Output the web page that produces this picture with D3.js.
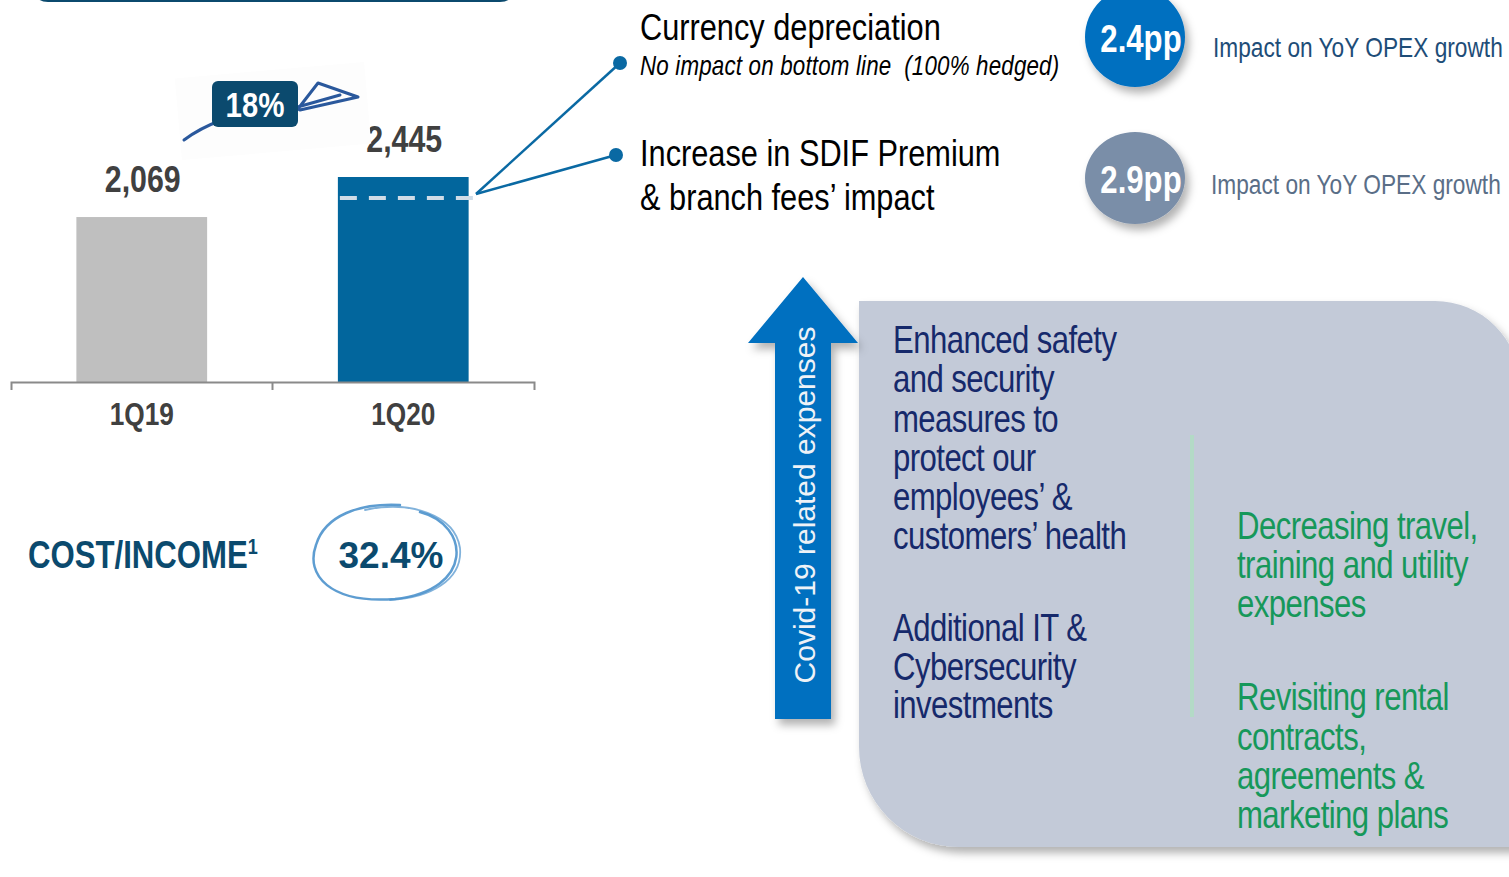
<!DOCTYPE html>
<html>
<head>
<meta charset="utf-8">
<script src="https://cdn.jsdelivr.net/npm/d3@7"></script>
<style>
  html, body { margin: 0; padding: 0; background: #fff; }
  svg { display: block; }
  text { font-family: 'Liberation Sans', Arial, sans-serif; }
</style>
</head>
<body>
<svg id="chart"></svg>
<script>
// ---- data ----
let categories = ['1Q19', '1Q20']
let opexValues = [2069, 2445]
let valueLabels = ['2,069', '2,445']
let barColors = ['#bfbfbf', '#02669d']
let baseBeforeImpacts = 2248        // dashed line inside the 1Q20 bar
let growthLabel = '18%'

let impactTitles = [['Currency depreciation'], ['Increase in SDIF Premium', '& branch fees\u2019 impact']]
let impactSub = 'No impact on bottom line\u00a0\u00a0(100% hedged)'
let impactPP = ['2.4pp', '2.9pp']
let impactNote = 'Impact on YoY OPEX growth'

let costIncomeLabel = 'COST/INCOME'
let costIncomeValue = '32.4%'

let covidLabel = 'Covid-19 related expenses'
let covidItems = [
  ['Enhanced safety', 'and security', 'measures to', 'protect our', 'employees\u2019 &', 'customers\u2019 health'],
  ['Additional IT &', 'Cybersecurity', 'investments']
]
let savingItems = [
  ['Decreasing travel,', 'training and utility', 'expenses'],
  ['Revisiting rental', 'contracts,', 'agreements &', 'marketing plans']
]

// ---- canvas ----
let width = 1509
let height = 877
let narrow = 0.82   // Arial Narrow look: squeeze Liberation Sans horizontally
let svg = d3.select('#chart').attr('width', width).attr('height', height)

let defs = svg.append('defs')
let shadow = defs.append('filter').attr('id', 'shadow')
  .attr('x', '-20%').attr('y', '-20%').attr('width', '150%').attr('height', '150%')
shadow.append('feDropShadow').attr('dx', 4).attr('dy', 6).attr('stdDeviation', 4)
  .attr('flood-color', '#000').attr('flood-opacity', 0.3)

let narrowText = (x, y, t) => {
  return svg.append('text')
    .attr('transform', 'translate(' + x + ',' + y + ') scale(' + narrow + ',1)')
    .text(t)
}

// top banner remnant
svg.append('path')
  .attr('d', 'M36,-20 H512 V-8 Q512,2 500,2 H48 Q36,2 36,-8 Z')
  .attr('fill', '#0b4a6e')

// ---- bar chart ----
let baseY = 382
let xScale = d3.scaleBand().domain(categories).range([10, 533]).paddingInner(0.5).paddingOuter(0.25)
let yScale = d3.scaleLinear().domain([520, 2445]).range([baseY, 177])

svg.selectAll('rect.bar')
  .data(categories)
  .enter()
  .append('rect')
  .attr('class', 'bar')
  .attr('x', d => xScale(d) + 1)
  .attr('y', (d, i) => yScale(opexValues[i]))
  .attr('width', xScale.bandwidth())
  .attr('height', (d, i) => baseY - yScale(opexValues[i]))
  .attr('fill', (d, i) => barColors[i])

svg.selectAll('text.val')
  .data(categories)
  .enter()
  .append('text')
  .attr('class', 'val')
  .attr('transform', (d, i) => 'translate(' + (xScale(d) + xScale.bandwidth() / 2 + 2) + ',' +
        (yScale(opexValues[i]) - 25) + ') scale(' + narrow + ',1)')
  .attr('text-anchor', 'middle')
  .attr('font-size', 37).attr('font-weight', 'bold').attr('fill', '#404040')
  .text((d, i) => valueLabels[i])

// dashed line inside 1Q20 bar
let dashY = yScale(baseBeforeImpacts)
svg.append('line')
  .attr('x1', xScale('1Q20') + 3).attr('x2', xScale('1Q20') + xScale.bandwidth() + 8)
  .attr('y1', dashY).attr('y2', dashY)
  .attr('stroke', '#d0dce7').attr('stroke-width', 4).attr('stroke-dasharray', '17,12')

let xAxis = d3.axisBottom(xScale).tickSizeInner(0).tickSizeOuter(8).tickPadding(20)
let gx = svg.append('g').attr('transform', 'translate(1,' + baseY + ')').call(xAxis)
gx.select('.domain').attr('stroke', '#8a8a8a').attr('stroke-width', 2)
gx.selectAll('.tick text')
  .attr('transform', 'scale(' + narrow + ',1)')
  .attr('font-family', "'Liberation Sans', Arial, sans-serif")
  .attr('font-size', 32).attr('font-weight', 'bold').attr('fill', '#404040')
let midTick = (xScale('1Q19') + xScale.bandwidth() + xScale('1Q20')) / 2
gx.append('line').attr('x1', midTick).attr('x2', midTick).attr('y1', 0).attr('y2', 8)
  .attr('stroke', '#8a8a8a').attr('stroke-width', 2)

// 18% growth badge with hand-drawn arrow
svg.append('rect').attr('x', 178).attr('y', 70).attr('width', 190).attr('height', 82)
  .attr('fill', '#fdfdfd').attr('transform', 'rotate(-5,273,111)')
let arrowG = svg.append('g').attr('fill', 'none').attr('stroke', '#2a589c').attr('stroke-width', 3)
  .attr('stroke-linecap', 'round').attr('stroke-linejoin', 'round')
arrowG.append('path').attr('d', 'M184,140 Q200,128 222,120')
arrowG.append('path').attr('d', 'M294,114 L318,83 L358,97 L300,110 M294,108 L340,95')
svg.append('rect').attr('x', 212).attr('y', 81).attr('width', 86).attr('height', 46).attr('rx', 6)
  .attr('fill', '#0b4a6e')
narrowText(255, 117, growthLabel).attr('text-anchor', 'middle')
  .attr('font-size', 36).attr('font-weight', 'bold').attr('fill', '#fff')

// connectors from dashed line to the impact bullets
let dotPts = [[620, 63], [616, 155]]
let fromPt = [476, 194]
svg.selectAll('line.conn')
  .data(dotPts)
  .enter()
  .append('line')
  .attr('class', 'conn')
  .attr('x1', fromPt[0]).attr('y1', fromPt[1])
  .attr('x2', d => d[0]).attr('y2', d => d[1])
  .attr('stroke', '#0a69a3').attr('stroke-width', 2.5)
svg.selectAll('circle.dot')
  .data(dotPts)
  .enter()
  .append('circle')
  .attr('class', 'dot')
  .attr('cx', d => d[0]).attr('cy', d => d[1]).attr('r', 7)
  .attr('fill', '#0a69a3')

// impact texts
let titleY = [[40], [166, 210]]
impactTitles.forEach((lines, i) => {
  lines.forEach((t, j) => {
    narrowText(640, titleY[i][j], t).attr('font-size', 37.5).attr('fill', '#000')
  })
})
narrowText(640, 75, impactSub).attr('font-size', 27.3).attr('font-style', 'italic').attr('fill', '#000')
  .attr('letter-spacing', 0.2)

// pp circles
let ppCircles = [{cx: 1135, cy: 37, rx: 50, ry: 50, fill: '#0070c0', note: '#1e4d78', ny: 57, nx: 1213},
                 {cx: 1135, cy: 178, rx: 50, ry: 46, fill: '#7a8ea8', note: '#5a6e87', ny: 194, nx: 1211}]
svg.selectAll('ellipse.pp')
  .data(ppCircles)
  .enter()
  .append('ellipse')
  .attr('class', 'pp')
  .attr('cx', d => d.cx).attr('cy', d => d.cy).attr('rx', d => d.rx).attr('ry', d => d.ry)
  .attr('fill', d => d.fill)
  .attr('filter', 'url(#shadow)')
svg.selectAll('text.pp')
  .data(ppCircles)
  .enter()
  .append('text')
  .attr('class', 'pp')
  .attr('transform', d => 'translate(' + (d.cx + 6) + ',' + (d.cy + 15) + ') scale(' + narrow + ',1)')
  .attr('text-anchor', 'middle')
  .attr('font-size', 38).attr('font-weight', 'bold').attr('fill', '#fff')
  .text((d, i) => impactPP[i])
svg.selectAll('text.note')
  .data(ppCircles)
  .enter()
  .append('text')
  .attr('class', 'note')
  .attr('transform', d => 'translate(' + d.nx + ',' + d.ny + ') scale(' + narrow + ',1)')
  .attr('font-size', 27.7).attr('fill', d => d.note)
  .text(impactNote)

// cost / income
let ci = narrowText(28, 568, null).attr('font-size', 38).attr('font-weight', 'bold').attr('fill', '#0b4a6e')
ci.append('tspan').text(costIncomeLabel)
ci.append('tspan').attr('font-size', 22).attr('dy', -14).text('1')
svg.append('text').attr('x', 391).attr('y', 568).attr('text-anchor', 'middle')
  .attr('font-size', 37).attr('font-weight', 'bold').attr('fill', '#0b4a6e').text(costIncomeValue)
let sketch = svg.append('g').attr('fill', 'none').attr('stroke', '#4c92cc').attr('stroke-linecap', 'round')
sketch.append('path').attr('stroke-width', 2.5).attr('opacity', 0.9)
  .attr('d', 'M420,512 C470,525 475,590 395,599 C330,604 305,575 316,545 C325,515 360,503 400,505')
sketch.append('path').attr('stroke-width', 1.8).attr('opacity', 0.7)
  .attr('d', 'M365,510 C410,500 455,515 460,548 C463,580 430,598 390,600')

// ---- covid panel ----
svg.append('path')
  .attr('d', 'M859,301 H1435 A85,85 0 0 1 1520,386 V847 H959 A100,100 0 0 1 859,747 Z')
  .attr('fill', '#c3cad8')
  .attr('filter', 'url(#shadow)')

svg.append('path')
  .attr('d', 'M803,277 L858,343 L831,343 L831,719 L775,719 L775,343 L748,343 Z')
  .attr('fill', '#0070c0')
  .attr('filter', 'url(#shadow)')
svg.append('text').attr('transform', 'translate(815,505) rotate(-90)')
  .attr('text-anchor', 'middle')
  .attr('font-size', 30).attr('fill', '#eef2f7').text(covidLabel)

svg.append('line').attr('x1', 1192).attr('x2', 1192).attr('y1', 435).attr('y2', 717)
  .attr('stroke', '#b3dac6').attr('stroke-width', 4)

let covidY = [[353, 392, 432, 471, 510, 549], [641, 680, 718]]
covidItems.forEach((lines, i) => {
  lines.forEach((t, j) => {
    narrowText(893, covidY[i][j], t)
      .attr('font-size', 38).attr('letter-spacing', -0.7).attr('fill', '#16296b')
  })
})
let savingY = [[539, 578, 617], [710, 750, 789, 828]]
savingItems.forEach((lines, i) => {
  lines.forEach((t, j) => {
    narrowText(1237, savingY[i][j], t)
      .attr('font-size', 38).attr('letter-spacing', -0.7).attr('fill', '#16985a')
  })
})
</script>
</body>
</html>
